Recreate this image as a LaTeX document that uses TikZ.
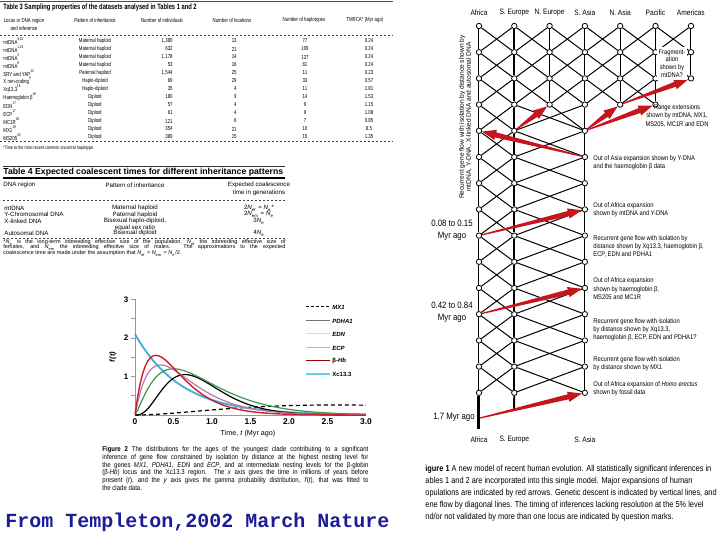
\documentclass[tikz,border=0pt]{standalone}
\usepackage{fontspec}
\setmainfont{Liberation Sans}
\newfontfamily\cfont[FakeStretch=0.85]{Liberation Sans}
\newfontfamily\nfont[FakeStretch=0.75]{Liberation Sans}
\newfontfamily\srcfont{Liberation Mono}
\usetikzlibrary{calc}
\newcommand\fsz[2]{\fontsize{#1}{#2}\selectfont\lineskiplimit=-20pt\relax}
\newcommand\Nsub[1]{\textit{N}\textsubscript{#1}}

\definecolor{expred}{RGB}{196,22,28}
\definecolor{srcblue}{RGB}{28,28,150}
\definecolor{axisgray}{RGB}{150,150,150}
\definecolor{hbred}{RGB}{205,30,45}
\definecolor{ecpmauve}{RGB}{185,120,170}
\definecolor{edngreen}{RGB}{60,150,75}
\definecolor{xccyan}{RGB}{60,175,215}

\newcommand\expansion[2]{%
  \path (#1) -- (#2) coordinate[pos=0] (ea) coordinate[pos=1] (eb);
  \fill[expred] ($(ea)!0.3pt!90:(eb)$) -- ($(eb)!7pt!(ea)!1.3pt!-90:(ea)$)
    -- ($(eb)!7pt!(ea)!2.6pt!-90:(ea)$) -- (eb) -- ($(eb)!7pt!(ea)!2.6pt!90:(ea)$)
    -- ($(eb)!7pt!(ea)!1.3pt!90:(ea)$) -- ($(ea)!0.3pt!-90:(eb)$) -- cycle;}

\begin{document}
\begin{tikzpicture}[x=0.5pt, y=-0.5pt,
  pop/.style={circle, draw, fill=white, inner sep=0pt, minimum size=2.7pt, line width=0.4pt},
  link/.style={line width=0.5pt},
  descent/.style={line width=0.95pt},
  note/.style={inner sep=0pt, align=left, anchor=west, font=\cfont\fsz{3.4}{4.25}},
  head/.style={inner sep=0pt, font=\cfont\fsz{3.9}{4.5}},
  t3/.style={inner sep=0pt, font=\nfont\fsz{2.9}{4}},
  t4/.style={inner sep=0pt, font=\fsz{3.1}{3}},
  rule/.style={draw=black!75, line width=0.35pt, dash pattern=on 1.2pt off 0.8pt},
  mxl/.style={black, dash pattern=on 1.5pt off 1pt},
  pdl/.style={black!55},
  ednl/.style={green!35!white},
  ecpl/.style={violet!35!white},
  hbl/.style={red!60!black},
  xcl/.style={cyan!60!white, line width=1.4pt}]

\useasboundingbox (0,0) rectangle (720,540);

\begin{scope}
\clip (0,0) rectangle (393,160);
\draw[black!70, line width=0.8pt] (0,1.5) -- (393,1.5);
\node[t3, anchor=west, font=\nfont\bfseries\fsz{3.85}{4}] (t3title) at (3,8) {Table 3 Sampling properties of the datasets analysed in Tables 1 and 2};
\node[t3, align=center] (h1) at (24,24) {Locus or DNA region\\and reference};
\node[t3] (h2) at (95,20) {Pattern of inheritance};
\node[t3] (h3) at (162,20) {Number of individuals};
\node[t3] (h4) at (232,20) {Number of locations};
\node[t3] (h5) at (304,20) {Number of haplotypes};
\node[t3, anchor=west] (h6) at (346,20) {TMRCA* (Myr ago)};
\draw[rule] (0,35) -- (393,35);
\foreach \loc/\pat/\ind/\nlo/\nha/\tm [count=\i from 0] in {
  {mtDNA\textsuperscript{9,22}}/Maternal haploid/{1,380}/13/77/0.24,
  {mtDNA\textsuperscript{1,23}}/Maternal haploid/632/21/109/0.24,
  {mtDNA\textsuperscript{3}}/Maternal haploid/{1,178}/14/127/0.24,
  {mtDNA\textsuperscript{8}}/Maternal haploid/53/16/61/0.24,
  {SRY and YAP\textsuperscript{12}}/Paternal haploid/{1,544}/25/11/0.23,
  {X non-coding\textsuperscript{5}}/Haplo-diploid/69/29/33/0.57,
  {Xq13.3\textsuperscript{14}}/Haplo-diploid/35/4/11/1.81,
  {Haemoglobin β\textsuperscript{16}}/Diploid/180/9/14/1.53,
  {EDN\textsuperscript{17}}/Diploid/57/4/9/1.15,
  {ECP\textsuperscript{17}}/Diploid/61/4/9/1.08,
  {MC1R\textsuperscript{18}}/Diploid/121/6/7/0.85,
  {MX1\textsuperscript{19}}/Diploid/354/21/10/8.5,
  {MS205\textsuperscript{20}}/Diploid/389/15/15/1.35}{
  \node[t3, anchor=west] (loc\i) at (3,{41+8*\i}) {\loc};
  \node[t3] (pat\i) at (95,{41+8*\i}) {\pat};
  \node[t3, anchor=east] (ind\i) at (173,{41+8*\i}) {\ind};
  \node[t3, anchor=east] (nlo\i) at (237,{41+8*\i}) {\nlo};
  \node[t3] (nha\i) at (305,{41+8*\i}) {\nha};
  \node[t3] (tm\i) at (369,{41+8*\i}) {\tm};
}
\draw[rule] (0,141) -- (393,141);
\node[t3, anchor=west, font=\nfont\fsz{2.5}{3}] (t3foot) at (3,148) {*Time to the most recent common ancestral haplotype.};
\end{scope}

\draw[black!80, line width=0.35pt] (3,166) -- (285,166);
\node[inner sep=0pt, anchor=west, font=\bfseries\fsz{4.35}{5}] (t4title) at (3,172) {Table 4 Expected coalescent times for different inheritance patterns};
\draw[black, line width=0.8pt] (3,178) -- (285,178);
\node[t4, anchor=west] (g1) at (3,185) {DNA region};
\node[t4] (g2) at (135,185) {Pattern of inheritance};
\node[t4, align=center, font=\fsz{3.1}{4}] (g3) at (259,189) {Expected coalescence\\time in generations};
\draw[rule] (3,200) -- (285,200);
\node[t4, anchor=west] (r1) at (4,208) {mtDNA};
\node[t4] (r1p) at (135,208) {Maternal haploid};
\node[t4] (r1t) at (259,208) {2\Nsub{ef} = \Nsub{e}*};
\node[t4, anchor=west] (r2) at (4,214.5) {Y-Chromosomal DNA};
\node[t4] (r2p) at (135,214.5) {Paternal haploid};
\node[t4] (r2t) at (259,214.5) {2\Nsub{em} = \Nsub{e}};
\node[t4, anchor=west] (r3) at (4,221) {X-linked DNA};
\node[t4, align=center, font=\fsz{3.1}{3.25}] (r3p) at (135,224.25) {Bisexual haplo-diploid,\\equal sex ratio};
\node[t4] (r3t) at (259,221) {3\Nsub{e}};
\node[t4, anchor=west] (r4) at (4,233) {Autosomal DNA};
\node[t4] (r4p) at (135,233) {Bisexual diploid};
\node[t4] (r4t) at (259,233) {4\Nsub{e}};
\draw[rule] (3,238) -- (285,238);
\node[inner sep=0pt, anchor=west, align=left, font=\fsz{2.75}{2.8}] (t4foot) at (3,248)
  {\makebox[141pt][s]{*\Nsub{e} is the long-term inbreeding effective size of the population, \Nsub{ef} the inbreeding effective size of}\\
   \makebox[141pt][s]{females, and \Nsub{em} the inbreeding effective size of males. The approximations to the expected}\\
   coalescence time are made under the assumption that \Nsub{ef} = \Nsub{em} = \Nsub{e}/2.};

\begin{scope}[shift={(135,415)}, x=38.5pt, y=19.25pt]
\draw[axisgray, line width=0.4pt] (0,0) -- (0,3);
\draw[axisgray, line width=0.4pt] (0,0) -- (3,0);
\foreach \v in {0.5,1,...,3} \draw[axisgray, line width=0.4pt] (-0.05,\v) -- (0,\v);
\foreach \v in {1,2,3} \node[inner sep=0pt, anchor=east, font=\bfseries\fsz{4}{4}] (yl\v) at (-0.08,\v) {\v};
\foreach \v/\t in {0/0,0.5/0.5,1/1.0,1.5/1.5,2/2.0,2.5/2.5,3/3.0}
  \node[inner sep=0pt, anchor=north, font=\bfseries\fsz{4.2}{4}] (xl\t) at (\v,-0.08) {\t};
\draw[black, line width=0.6pt, dash pattern=on 2pt off 1.5pt] plot[domain=0.001:3, samples=60] (\x,{0.26*(\x/2.6)^2*exp(-2*(\x/2.6-1))});
\draw[xccyan, line width=0.9pt] plot[domain=0:3, samples=80] (\x,{2.1*exp(-1.68*\x)});
\draw[black, line width=0.6pt] plot[domain=0.001:3, samples=90] (\x,{1.05*(\x/0.65)^3*exp(-3*(\x/0.65-1))});
\draw[edngreen, line width=0.6pt] plot[domain=0.001:3, samples=90] (\x,{1.2*(\x/0.5)^1.3*exp(-1.3*(\x/0.5-1))});
\draw[ecpmauve, line width=0.6pt] plot[domain=0.001:3, samples=90] (\x,{1.3*(\x/0.33)*exp(1-\x/0.33)});
\draw[hbred, line width=0.7pt] plot[domain=0.001:3, samples=90] (\x,{1.55*(\x/0.27)*exp(1-\x/0.27)});
\end{scope}
\node[inner sep=0pt, rotate=90, font=\bfseries\itshape\fsz{3.8}{4}] (fty) at (113,357) {f(t)};
\node[inner sep=0pt, font=\fsz{3.6}{4}] (tx) at (248,434) {Time, \textit{t} (Myr ago)};
\foreach \y/\sty/\lab [count=\k] in {
  307/mxl/\textit{MX1},
  321/pdl/\textit{PDHA1},
  334/ednl/\textit{EDN},
  348/ecpl/\textit{ECP},
  361/hbl/β-\textit{Hb},
  374/xcl/Xc13.3}{
  \coordinate (lg\k) at (306,\y);
  \coordinate (lh\k) at (330,\y);
  \draw[line width=0.5pt, \sty] (lg\k) -- (lh\k);
  \node[inner sep=0pt, anchor=west, font=\bfseries\fsz{3}{3}] (ll\k) at (332,\y) {\lab};
}
\node[inner sep=0pt, anchor=west, align=left, font=\cfont\fsz{3.55}{3.9}] (cap2) at (102,468.5)
  {\makebox[133pt][s]{\textbf{Figure 2} The distributions for the ages of the youngest clade contributing to a significant}\\
   \makebox[133pt][s]{inference of gene flow constrained by isolation by distance at the highest nesting level for}\\
   \makebox[133pt][s]{the genes \textit{MX1}, \textit{PDHA1}, \textit{EDN} and \textit{ECP}, and at intermediate nesting levels for the β-globin}\\
   \makebox[133pt][s]{(β-\textit{Hb}) locus and the Xc13.3 region. The \textit{x} axis gives the time in millions of years before}\\
   \makebox[133pt][s]{present (\textit{t}), and the \textit{y} axis gives the gamma probability distribution, \textit{f}(\textit{t}), that was fitted to}\\
   the clade data.};
\node[inner sep=0pt, anchor=west, text=srcblue, font=\srcfont\bfseries\fsz{10}{10}] (src) at (5,522) {From Templeton,2002 March Nature};

\foreach \c/\reg in {0/Africa,1/S. Europe,2/N. Europe,3/S. Asia,4/N. Asia,5/Pacific,6/Americas}
  \node[head] (top\c) at ({479+35.3*\c},13) {\reg};
\foreach \c/\reg in {0/Africa,1/S. Europe,3/S. Asia}
  \node[head] (bot\c) at ({479+35.3*\c},440) {\reg};

\foreach \r in {0,...,3} \foreach \c in {0,...,5}
  \node[pop] (p\r-\c) at ({479+35.3*\c},{26+26.2*\r}) {};
\foreach \r in {0,1,2} \node[pop] (p\r-6) at (691,{26+26.2*\r}) {};
\foreach \r in {4,...,14} \foreach \c in {0,1,3}
  \node[pop] (p\r-\c) at ({479+35.3*\c},{26+26.2*\r}) {};
\coordinate (afr-base) at (479,429);
\coordinate (seu-base) at (514,410);
\coordinate (erectus) at (480,418);

\foreach \r/\s in {0/1,1/2} {
  \foreach \c/\d in {0/1,1/2,2/3,3/4,4/5,5/6} {
    \draw[link] (p\r-\c) -- (p\s-\d);
    \draw[link] (p\r-\d) -- (p\s-\c);
  }
  \foreach \c in {0,2,3,4,5,6} \draw[link] (p\r-\c) -- (p\s-\c);
  \draw[descent] (p\r-1) -- (p\s-1);
}
\foreach \c/\d in {0/1,1/2,2/3,3/4,4/5} {
  \draw[link] (p2-\c) -- (p3-\d);
  \draw[link] (p2-\d) -- (p3-\c);
}
\foreach \c in {0,2,3,4,5} \draw[link] (p2-\c) -- (p3-\c);
\draw[descent] (p2-1) -- (p3-1);
\draw[link] (p3-2) -- (p4-3);
\foreach \r in {3,...,13} {
  \pgfmathtruncatemacro\s{\r+1}
  \draw[link] (p\r-0) -- (p\s-1);
  \draw[link] (p\r-1) -- (p\s-0);
  \draw[link] (p\r-1) -- (p\s-3);
  \draw[link] (p\r-3) -- (p\s-1);
  \draw[link] (p\r-0) -- (p\s-0);
  \draw[link] (p\r-3) -- (p\s-3);
  \draw[descent] (p\r-1) -- (p\s-1);
}
\draw[line width=1.5pt] (p14-0) -- (afr-base);
\draw[descent] (p14-1) -- (seu-base);

\expansion{p4-1}{p3-2}
\expansion{p4-3}{p3-4}
\expansion{p4-3}{p3-5}
\expansion{p3-4}{p2-6}
\expansion{p5-3}{p4-0}
\expansion{p8-0}{p7-3}
\expansion{p11-0}{p10-3}
\expansion{erectus}{p14-3}

\node[note, anchor=center, align=center, fill=white, inner xsep=1pt, inner ysep=1.5pt, font=\cfont\fsz{3.4}{3.85}] (frag) at (672,63.5) {Fragment-\\ation\\shown by\\mtDNA?};
\node[note, anchor=center, align=center] (rng) at (677,115.5) {Range extensions\\shown by mtDNA, MX1,\\MS205, MC1R and EDN};
\node[note] (n1) at (593,162.5) {Out of Asia expansion shown by Y-DNA\\and the haemoglobin β data};
\node[note] (n2) at (593,209.5) {Out of Africa expansion\\shown by mtDNA and Y-DNA};
\node[note, font=\cfont\fsz{3.4}{4}] (n3) at (593,246) {Recurrent gene flow with isolation by\\distance shown by Xq13.3, haemoglobin β,\\ECP, EDN and PDHA1};
\node[note] (n4) at (593,289) {Out of Africa expansion\\shown by haemoglobin β,\\MS205 and MC1R};
\node[note, font=\cfont\fsz{3.4}{4}] (n5) at (593,330) {Recurrent gene flow with isolation\\by distance shown by Xq13.3,\\haemoglobin β, ECP, EDN and PDHA1?};
\node[note] (n6) at (593,363.5) {Recurrent gene flow with isolation\\by distance shown by MX1};
\node[note] (n7) at (593,388.5) {Out of Africa expansion of \textit{Homo erectus}\\shown by fossil data};

\node[inner sep=0pt, align=center, font=\cfont\fsz{4.6}{6}] (age1) at (452,230) {0.08 to 0.15\\Myr ago};
\node[inner sep=0pt, align=center, font=\cfont\fsz{4.6}{6}] (age2) at (452,312) {0.42 to 0.84\\Myr ago};
\node[inner sep=0pt, font=\cfont\fsz{4.6}{6}] (age3) at (454,417) {1.7 Myr ago};
\node[inner sep=0pt, rotate=90, align=center, font=\fsz{3.3}{3.5}] (gf) at (465.5,117) {Recurrent gene flow with isolation by distance shown by\\mtDNA, Y-DNA, X-linked DNA and autosomal DNA};

\node[inner sep=0pt, anchor=west, align=left, font=\cfont\fsz{4.35}{6}] (cap1) at (425,493)
  {\textbf{igure 1} A new model of recent human evolution. All statistically significant inferences in\\
   ables 1 and 2 are incorporated into this single model. Major expansions of human\\
   opulations are indicated by red arrows. Genetic descent is indicated by vertical lines, and\\
   ene flow by diagonal lines. The timing of inferences lacking resolution at the 5\% level\\
   nd/or not validated by more than one locus are indicated by question marks.};
\end{tikzpicture}
\end{document}
